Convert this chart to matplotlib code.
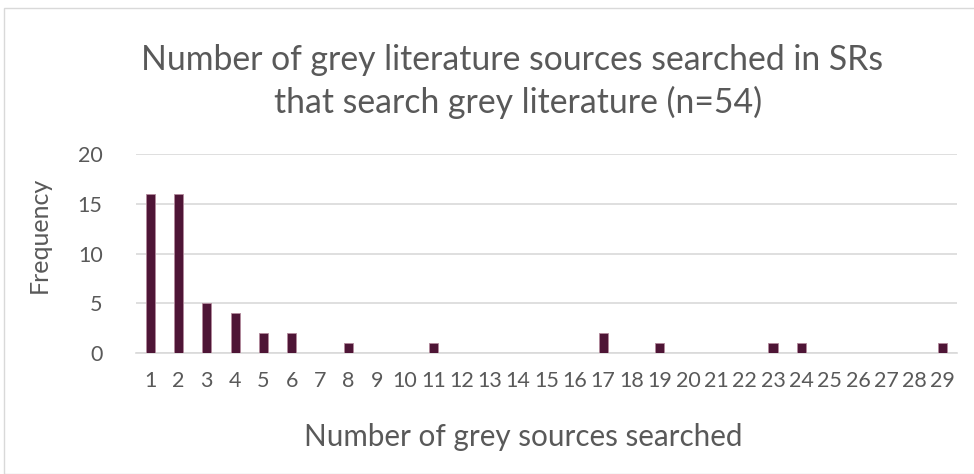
import matplotlib
matplotlib.use("Agg")
import matplotlib.pyplot as plt
from matplotlib.patches import Rectangle

sources = list(range(1, 30))
frequency = [16, 16, 5, 4, 2, 2, 0, 1, 0, 0, 1, 0, 0, 0, 0, 0, 2, 0, 1, 0,
             0, 0, 1, 1, 0, 0, 0, 0, 1]
y_ticks = [0, 5, 10, 15, 20]

title = "Number of grey literature sources searched in SRs\nthat search grey literature (n=54)"
x_label = "Number of grey sources searched"
y_label = "Frequency"

text_color = "#595959"
bar_color = "#4e1536"
plt.rcParams["font.family"] = ["Lato", "DejaVu Sans"]

W, H = 974, 474
fig = plt.figure(figsize=(W / 100, H / 100), dpi=100)
fig.patches.append(Rectangle((4 / W, 0), 1.0, 1 - 8 / H, transform=fig.transFigure,
                             fill=False, edgecolor="#d9d9d9", linewidth=1.0))

ax = fig.add_axes([136 / W, 1 - 353 / H, (957 - 136) / W, (353 - 154) / H])
ax.bar(sources, frequency, width=0.32, color=bar_color, edgecolor="#b28a9c",
       linewidth=0.6, zorder=3)
ax.set_xlim(0.5, 29.5)
ax.set_ylim(0, 20)
ax.set_yticks(y_ticks)
ax.set_xticks(sources)
ax.set_xticklabels([str(s) for s in sources])
ax.yaxis.grid(True, color="#d9d9d9", linewidth=1.2, zorder=0)
for side in ["top", "right", "left"]:
    ax.spines[side].set_visible(False)
ax.spines["bottom"].set_color("#d9d9d9")
ax.spines["bottom"].set_linewidth(1.2)
ax.tick_params(axis="both", length=0, labelsize=15.5, colors=text_color)
ax.tick_params(axis="x", pad=13)
ax.tick_params(axis="y", pad=24)

line1, line2 = title.split("\n")
fig.text(512 / W, 1 - 60 / H, line1, ha="center", va="center",
         fontsize=24.3, color=text_color)
fig.text(518 / W, 1 - 102 / H, line2, ha="center", va="center",
         fontsize=24.3, color=text_color)
fig.text(523 / W, 1 - 437 / H, x_label, ha="center", va="center", fontsize=21.3,
         color=text_color)
fig.text(39 / W, 1 - 235 / H, y_label, ha="center", va="center", fontsize=18,
         color=text_color, rotation=90)

fig.savefig("out.png", dpi=100, facecolor="white")
